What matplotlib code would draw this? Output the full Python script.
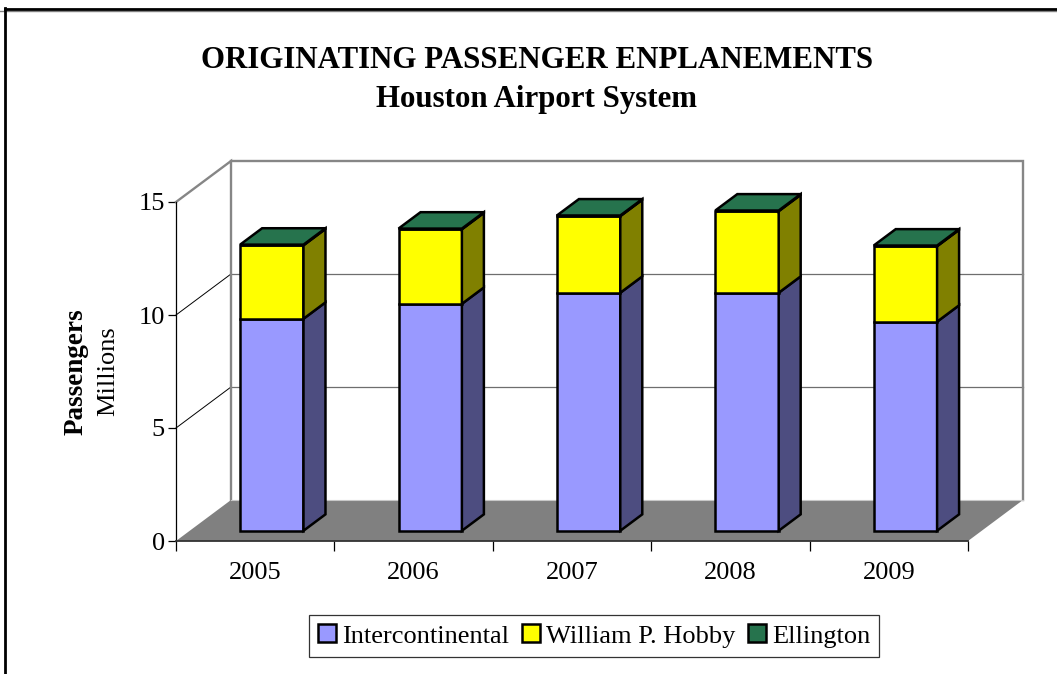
#!/usr/bin/env python3
import numpy as np
import matplotlib
matplotlib.use("Agg")
import matplotlib.pyplot as plt
from matplotlib.patches import Patch
from matplotlib.lines import Line2D

plt.rcParams['font.family'] = ['Liberation Serif', 'DejaVu Serif']

#########
# Datos #
#########
years = ['2005', '2006', '2007', '2008', '2009']
series_names = ['Intercontinental', 'William P. Hobby', 'Ellington']
intercontinental = [9.38, 10.04, 10.53, 10.53, 9.25]
hobby = [3.25, 3.30, 3.39, 3.61, 3.34]
ellington = [0.03, 0.03, 0.03, 0.03, 0.03]
yticks = [0, 5, 10, 15]

front_colors = ['#9999FF', '#FFFF00', '#26734D']
side_colors = ['#4D4D80', '#808000', '#1A4D33']
top_color = '#26734D'

##########
# Figura #
##########
W, H = 1057, 674
fig = plt.figure(figsize=(W / 100, H / 100), dpi=100)
x0, x1, y0, y1 = 176, 968, 541, 202  # plano frontal en pixeles
ax = fig.add_axes([x0 / W, 1 - y0 / H, (x1 - x0) / W, (y0 - y1) / H])
ax.set_xlim(0, 5)
ax.set_ylim(0, 15)
ax.patch.set_alpha(0)

# profundidad del piso en unidades de datos
DX = 55 / ((x1 - x0) / 5)
DY = 41 / ((y0 - y1) / 15)


def proj(x, y, d):
    return x + d * DX, y + d * DY


wall_c = '#868686'

#################
# Piso y paredes #
#################
fx = [proj(0, 0, 0)[0], proj(0, 0, 1)[0], proj(5, 0, 1)[0], proj(5, 0, 0)[0]]
fy = [proj(0, 0, 0)[1], proj(0, 0, 1)[1], proj(5, 0, 1)[1], proj(5, 0, 0)[1]]
ax.fill(fx, fy, color='#808080', lw=0, clip_on=False, zorder=1)

# lineas de grilla
for v in yticks[1:-1]:
    ax.plot([0, DX], [v, v + DY], color='k', lw=0.7, clip_on=False, zorder=1.5)
    ax.plot([DX, 5 + DX], [v + DY, v + DY], color='#6e6e6e', lw=0.9, clip_on=False, zorder=1.5)

# borde de las paredes
wx = [0, DX, DX]
wy = [15, 15 + DY, DY]
ax.plot(wx, wy, color=wall_c, lw=1.7, clip_on=False, zorder=1.6, solid_joinstyle='miter')
ax.plot([DX, 5 + DX, 5 + DX], [15 + DY, 15 + DY, DY], color=wall_c, lw=1.7, clip_on=False,
        zorder=1.6, solid_joinstyle='miter')
ax.plot([DX, 5 + DX], [DY, DY], color='#c8c8c8', lw=0.8, clip_on=False, zorder=1.6)

##########
# Barras #
##########
bar_w = 0.40
bar_lo = 0.318
d0, d1 = 0.25, 0.65
edge = dict(edgecolor='k', linewidth=1.8, joinstyle='miter', clip_on=False)

xs = np.arange(len(years)) + bar_lo
bottoms = np.zeros(len(years))
data = [intercontinental, hobby, ellington]
for k, vals in enumerate(data):
    vals = np.array(vals)
    ox, oy = d0 * DX, d0 * DY
    ax.bar(xs + ox, vals, bar_w, bottom=bottoms + oy, align='edge',
           facecolor=front_colors[k], zorder=3 + k * 0.1, **edge)
    for i in range(len(years)):
        r = xs[i] + bar_w
        sx = [proj(r, bottoms[i], d0)[0], proj(r, bottoms[i], d1)[0],
              proj(r, bottoms[i] + vals[i], d1)[0], proj(r, bottoms[i] + vals[i], d0)[0]]
        sy = [proj(r, bottoms[i], d0)[1], proj(r, bottoms[i], d1)[1],
              proj(r, bottoms[i] + vals[i], d1)[1], proj(r, bottoms[i] + vals[i], d0)[1]]
        ax.fill(sx, sy, facecolor=side_colors[k], zorder=3 + k * 0.1, **edge)
    bottoms = bottoms + vals

# tapa superior
for i in range(len(years)):
    l, r, t = xs[i], xs[i] + bar_w, bottoms[i]
    pts = [proj(l, t, d0), proj(r, t, d0), proj(r, t, d1), proj(l, t, d1)]
    ax.fill([p[0] for p in pts], [p[1] for p in pts], facecolor=top_color, zorder=3.5, **edge)

########
# Ejes #
########
for s in ['top', 'right']:
    ax.spines[s].set_visible(False)
ax.spines['left'].set_linewidth(0.9)
ax.spines['bottom'].set_linewidth(1.3)
ax.spines['bottom'].set_color('#333333')
ax.spines['left'].set_zorder(2)
ax.spines['bottom'].set_zorder(2)

ax.set_yticks(yticks)
ax.set_yticklabels([str(v) for v in yticks], fontsize=19)
ax.tick_params(axis='y', length=6, width=0.9, pad=2)
ax.set_xticks(range(6))
ax.set_xticklabels([])
ax.tick_params(axis='x', which='major', length=7, width=0.9)
ax.xaxis.get_major_ticks()[-1].tick1line.set_color(wall_c)
ax.set_xticks(np.arange(5) + 0.5, minor=True)
ax.set_xticklabels(years, minor=True, fontsize=19)
ax.tick_params(axis='x', which='minor', length=0, pad=15)

############
# Textos   #
############
fig.text(537 / W, 1 - 61 / H, 'ORIGINATING PASSENGER ENPLANEMENTS', ha='center', va='center',
         fontsize=22.2, fontweight='bold')
fig.text(537 / W, 1 - 99 / H, 'Houston Airport System', ha='center', va='center',
         fontsize=22.2, fontweight='bold')
fig.text(76 / W, 1 - 372 / H, 'Passengers', rotation=90, ha='center', va='center',
         fontsize=19.5, fontweight='bold')
fig.text(108 / W, 1 - 371 / H, 'Millions', rotation=90, ha='center', va='center', fontsize=19)

##########
# Leyenda #
##########
handles = [Patch(facecolor=c, edgecolor='k', linewidth=1.8) for c in front_colors]
leg = fig.legend(handles, series_names, ncol=3, loc='center', bbox_to_anchor=(594 / W, 1 - 636 / H),
                 fontsize=19, frameon=True, fancybox=False, edgecolor='#333333', framealpha=1,
                 handlelength=0.68, handleheight=0.68, handletextpad=0.22, columnspacing=0.5,
                 borderpad=0.35, borderaxespad=0)
leg.get_frame().set_linewidth(0.9)

###################
# Marco de la hoja #
###################
fig.add_artist(Line2D([0, 1], [1 - 10.5 / H, 1 - 10.5 / H], color='#808080', lw=1))
fig.add_artist(Line2D([5 / W, 1], [1 - 9 / H, 1 - 9 / H], color='k', lw=2))
fig.add_artist(Line2D([5 / W, 5 / W], [0, 1 - 8 / H], color='k', lw=2))

fig.savefig('out.png', dpi=100)
